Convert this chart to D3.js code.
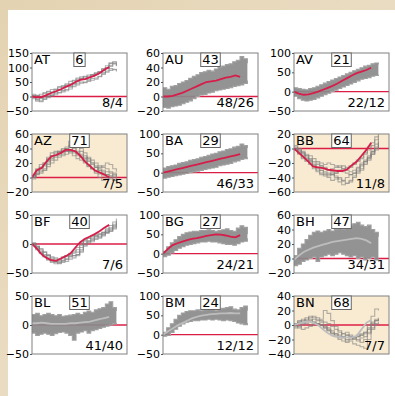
<!DOCTYPE html>
<html><head><meta charset="utf-8">
<script src="https://cdn.jsdelivr.net/npm/d3@7"></script>
<style>
html,body{margin:0;padding:0;background:#e6d6b8;}
svg{display:block;}
text{font-family:"DejaVu Sans",sans-serif;}
</style></head>
<body>
<svg id="c" width="395" height="396"></svg>
<script>
// ---------- data ----------
const names = ["AT","AU","AV","AZ","BA","BB","BF","BG","BH","BL","BM","BN"];
const counts = [6,43,21,71,29,64,40,27,47,51,24,68];
const fractions = ["8/4","48/26","22/12","7/5","46/33","11/8","7/6","24/21","34/31","41/40","12/12","7/7"];
const yDomains = [[-50,150],[-20,60],[-50,100],[-20,60],[-50,100],[-60,20],[-50,50],[-50,100],[-20,60],[-50,50],[-50,100],[-40,40]];
const yTicks = [[-50,0,50,100,150],[-20,0,20,40,60],[-50,0,50,100],[-20,0,20,40,60],[-50,0,50,100],[-60,-40,-20,0,20],[-50,0,50],[-50,0,50,100],[-20,0,20,40,60],[-50,0,50],[-50,0,50,100],[-40,-20,0,20,40]];
const highlighted = ["AZ","BB","BN"];
const greyTrend = ["BH","BL","BM","BN"];

// trend lines (17 points)
const trendAT = [0,-3,-2,5,12,18,25,33,40,50,57,60,66,72,80,92,102];
const trendAU = [0,0,1,3,5,8,11,14,17,20,21,22,24,26,27,29,27];
const trendAV = [0,-5,-8,-7,-4,0,5,10,15,21,28,35,42,48,52,56,62];
const trendAZ = [0,10,13,22,29,31,34,38,38,36,30,22,16,10,7,4,0];
const trendBA = [0,3,6,9,12,15,18,21,24,27,30,33,36,39,42,45,48];
const trendBB = [0,-6,-12,-18,-25,-26,-27,-29,-30,-31,-31,-29,-23,-18,-10,-2,8];
const trendBF = [0,-8,-18,-24,-28,-29,-25,-21,-16,-6,3,9,13,17,22,28,33];
const trendBG = [0,12,22,27,31,35,38,40,43,46,48,50,49,47,44,42,48];
const trendBH = [-2,4,9,12,15,17,19,21,23,24,25,26,27,28,27,25,21];
const trendBL = [3,3,4,3,2,2,2,2,3,3,4,5,6,8,10,12,14];
const trendBM = [0,8,16,24,30,36,42,46,49,51,53,54,55,55,56,55,55];
const trendBN = [0,2,4,5,3,0,-6,-11,-15,-16,-17,-17,-17,-15,-6,3,7];

// individual grey runs for the sparse panels
const linesAT = [
 [0,-10,-15,-8,2,8,12,24,22,34,35,44,52,60,64,58,70,76,84,82,96,104,112,104],
 [8,4,-3,10,16,14,26,22,34,40,44,54,60,64,68,74,76,82,84,96,100,114,118,120],
 [-8,-16,-18,-10,-4,2,6,12,16,20,26,34,40,46,50,52,56,60,68,76,84,90,94,90],
 [4,2,8,14,18,24,24,34,38,44,52,56,64,68,60,70,76,80,86,94,106,116,120,110],
 [-4,-12,-6,-2,0,4,12,14,20,24,32,40,46,50,48,56,62,64,70,80,88,96,92,86],
 [2,-5,-8,0,10,16,20,30,32,38,42,46,56,62,70,66,72,78,82,90,98,108,114,106]
];
const linesAZ = [
 [0,12,18,20,28,34,36,34,38,40,44,42,30,28,20,15,12,8,5,2,0,-2,-4,-5],
 [2,5,8,10,18,24,28,30,32,36,34,30,26,24,28,22,18,14,10,6,4,2,0,-2],
 [-2,8,12,16,26,30,32,36,38,42,50,55,42,36,30,24,20,16,12,10,8,6,2,0],
 [0,4,6,10,15,20,24,28,30,32,36,40,36,32,24,18,12,6,0,-4,-2,2,4,0],
 [3,10,14,18,24,30,34,36,40,38,36,34,32,28,26,28,24,20,16,14,12,8,6,2],
 [0,6,10,12,20,26,30,32,34,36,38,44,48,40,34,26,20,14,10,8,4,0,-3,-4],
 [1,10,14,20,22,28,30,34,36,40,38,36,34,30,22,16,12,10,14,16,20,18,12,8]
];
const linesBB = [
 [0,-6,-10,-14,-20,-28,-32,-36,-38,-40,-44,-42,-40,-45,-48,-46,-40,-34,-30,-22,-16,-8,0,8],
 [2,-2,-4,-8,-10,-14,-18,-20,-22,-20,-22,-24,-26,-24,-28,-26,-22,-18,-14,-8,-2,4,12,18],
 [-2,-8,-14,-18,-22,-24,-28,-30,-34,-36,-34,-38,-42,-44,-40,-36,-34,-30,-24,-18,-12,-4,2,10],
 [0,-4,-6,-10,-16,-18,-20,-24,-26,-30,-28,-26,-24,-28,-30,-32,-30,-26,-20,-16,-10,-4,6,14],
 [4,0,-6,-10,-14,-20,-26,-30,-32,-34,-36,-40,-46,-50,-48,-44,-38,-32,-28,-20,-12,-6,0,4],
 [-2,-6,-12,-16,-18,-22,-22,-24,-28,-30,-32,-34,-30,-32,-34,-36,-34,-28,-22,-18,-14,-8,-2,6],
 [0,-2,-8,-12,-16,-24,-30,-34,-36,-38,-36,-34,-30,-28,-26,-24,-20,-16,-12,-6,2,8,16,20]
];
const linesBF = [
 [0,-8,-16,-22,-28,-32,-34,-33,-30,-26,-22,-20,-18,-10,0,4,6,10,12,16,20,22,26,30],
 [2,-4,-10,-14,-18,-22,-24,-26,-22,-20,-18,-14,-10,-2,6,10,14,16,18,20,24,28,34,38],
 [-2,-10,-16,-22,-26,-30,-32,-34,-32,-30,-26,-24,-20,-14,-4,2,4,8,10,14,18,22,28,34],
 [0,-4,-8,-14,-20,-24,-26,-28,-24,-20,-16,-12,-6,2,8,10,12,14,16,20,26,32,38,44],
 [0,-6,-12,-20,-24,-28,-30,-30,-28,-26,-22,-20,-18,-12,-2,4,8,12,16,18,20,24,30,36],
 [1,-5,-14,-18,-20,-26,-30,-32,-28,-22,-20,-16,-14,-6,4,6,10,14,12,16,22,26,32,40]
];
const linesBN = [
 [0,4,8,6,10,12,10,8,20,16,6,-2,-8,-12,-14,-16,-18,-16,-14,-10,0,12,22,20],
 [-2,-4,0,2,0,4,2,0,-4,-8,-12,-16,-20,-22,-24,-22,-26,-28,-30,-32,-20,-6,2,4],
 [2,6,4,8,12,10,8,6,4,2,-2,-6,-10,-16,-20,-18,-20,-22,-18,-16,-10,0,6,8],
 [0,-2,-6,-4,-2,0,2,0,-2,-6,-10,-12,-14,-12,-10,-14,-16,-14,-12,-10,-6,2,6,10],
 [-4,0,2,4,6,8,6,4,0,-4,-8,-12,-16,-18,-22,-20,-18,-20,-24,-20,-12,-4,0,2],
 [2,4,6,10,8,4,2,0,-4,-8,-12,-14,-18,-16,-14,-16,-18,-16,-14,-12,-4,4,8,6]
];

// envelopes of the dense panels (upper / lower)
const bandHiAU = [12,10,14,15,18,20,22,25,28,30,33,34,36,35,38,40,42,44,45,48,50,55,52,46];
const bandLoAU = [-15,-16,-14,-13,-12,-10,-8,-6,-3,0,2,3,5,6,8,9,10,11,12,14,15,16,18,22];
const bandHiAV = [10,8,6,5,8,10,14,18,22,26,30,34,38,42,46,50,54,58,62,66,68,72,74,70];
const bandLoAV = [-12,-18,-22,-24,-22,-20,-16,-12,-8,-4,0,4,8,12,16,20,24,28,32,34,36,40,42,44];
const bandHiBA = [12,16,18,20,24,26,28,32,34,36,40,42,45,48,50,54,56,60,62,66,68,74,70,64];
const bandLoBA = [-14,-12,-10,-8,-6,-4,-2,0,2,4,6,8,10,12,14,18,20,22,24,28,30,34,36,40];
const bandHiBG = [6,18,28,36,44,50,54,56,58,58,60,60,62,60,58,60,62,64,60,58,66,72,68,50];
const bandLoBG = [-8,-4,2,8,14,18,22,24,26,28,30,30,32,30,30,28,26,24,24,22,26,30,32,40];
const bandHiBH = [4,14,20,26,32,36,38,36,38,40,38,40,42,40,44,46,48,50,46,44,46,40,36,30];
const bandLoBH = [-10,-8,-4,-2,0,2,-4,2,4,6,4,6,8,6,4,2,4,0,2,-2,0,2,-2,0];
const bandHiBL = [18,20,16,18,20,18,16,18,15,16,17,18,20,18,22,24,22,26,28,30,36,40,30,24];
const bandLoBL = [-14,-18,-16,-14,-16,-18,-15,-13,-12,-14,-18,-26,-14,-12,-10,-14,-10,-8,-6,-4,-2,0,2,4];
const bandHiBM = [6,18,28,40,50,56,60,62,62,64,62,64,66,64,62,66,68,70,72,66,64,70,74,62];
const bandLoBM = [-4,-2,6,14,22,28,32,34,36,36,38,38,40,38,40,38,36,38,36,34,30,28,26,30];

const trends = {AT:trendAT,AU:trendAU,AV:trendAV,AZ:trendAZ,BA:trendBA,BB:trendBB,BF:trendBF,BG:trendBG,BH:trendBH,BL:trendBL,BM:trendBM,BN:trendBN};
const lineSets = {AT:linesAT,AZ:linesAZ,BB:linesBB,BF:linesBF,BN:linesBN};
const bands = {AU:[bandHiAU,bandLoAU],AV:[bandHiAV,bandLoAV],BA:[bandHiBA,bandLoBA],BG:[bandHiBG,bandLoBG],BH:[bandHiBH,bandLoBH],BL:[bandHiBL,bandLoBL],BM:[bandHiBM,bandLoBM]};

// ---------- drawing ----------
const svg = d3.select("#c");
const defs = svg.append("defs");
const grad = defs.append("linearGradient").attr("id","parch").attr("x1","0").attr("y1","0").attr("x2","1").attr("y2","1");
grad.append("stop").attr("offset","0").attr("stop-color","#e4d3b2");
grad.append("stop").attr("offset","0.5").attr("stop-color","#eadcc2");
grad.append("stop").attr("offset","1").attr("stop-color","#dcc8a4");
svg.append("rect").attr("width",395).attr("height",396).attr("fill","url(#parch)");
svg.append("rect").attr("x",8).attr("y",10).attr("width",387).attr("height",386).attr("fill","#ffffff");

const colLeft = [32,163,294], rowTop = [53,134,215,296], pw = 95, ph = 58;
const TMAX = 16, XDOM = 19.7, LMAX = 17.5;

names.forEach((nm,i)=>{
  const x0 = colLeft[i%3], y0 = rowTop[Math.floor(i/3)];
  const g = svg.append("g").attr("transform",`translate(${x0},${y0})`);
  const x = d3.scaleLinear().domain([0,XDOM]).range([0,pw]);
  const y = d3.scaleLinear().domain(yDomains[i]).range([ph,0]);
  const cid = "clip"+nm;
  defs.append("clipPath").attr("id",cid).append("rect").attr("width",pw).attr("height",ph);

  g.append("rect").attr("width",pw).attr("height",ph)
    .attr("fill", highlighted.includes(nm) ? "#f9ebd2" : "#ffffff");

  const inner = g.append("g").attr("clip-path",`url(#${cid})`);
  inner.append("line").attr("x1",0).attr("x2",pw).attr("y1",y(0)).attr("y2",y(0))
    .attr("stroke","#dc1e46").attr("stroke-width",1.3);

  const stepX = arr => (j => j*LMAX/(arr.length-1));
  if (bands[nm]) {
    const [hi,lo] = bands[nm];
    const sx = stepX(hi);
    const area = d3.area().curve(d3.curveStepAfter)
      .x((d,j)=>x(sx(j))).y0((d,j)=>y(lo[j])).y1(d=>y(d));
    inner.append("path").datum(hi).attr("d",area).attr("fill","#8a8a8a").attr("opacity",0.92);
    const edge = d3.line().curve(d3.curveStepAfter).x((d,j)=>x(sx(j))).y(d=>y(d));
    [hi,lo].forEach(a=>inner.append("path").datum(a).attr("d",edge)
      .attr("fill","none").attr("stroke","#a0a0a0").attr("stroke-width",1.1));
  }
  if (lineSets[nm]) {
    lineSets[nm].forEach(arr=>{
      const sx = stepX(arr);
      const ln = d3.line().curve(d3.curveStepAfter).x((d,j)=>x(sx(j))).y(d=>y(d));
      inner.append("path").datum(arr).attr("d",ln).attr("fill","none")
        .attr("stroke","#7f7f7f").attr("stroke-opacity",0.6).attr("stroke-width",1.1);
    });
  }
  const tr = trends[nm];
  const tl = d3.line().x((d,j)=>x(j*TMAX/(tr.length-1))).y(d=>y(d));
  inner.append("path").datum(tr).attr("d",tl).attr("fill","none")
    .attr("stroke", greyTrend.includes(nm) ? "#bdbdbd" : "#d51e4a").attr("stroke-width",1.8);

  g.append("rect").attr("width",pw).attr("height",ph).attr("fill","none")
    .attr("stroke","#808080").attr("stroke-width",1);

  const ax = g.append("g").call(d3.axisLeft(y).tickValues(yTicks[i]).tickSize(2).tickPadding(1));
  ax.select(".domain").remove();
  ax.selectAll(".tick line").attr("stroke","#555");
  ax.selectAll("text").attr("font-size","11px").attr("fill","#000")
    .attr("font-family","DejaVu Sans, sans-serif");

  g.append("text").attr("x",2).attr("y",11).attr("font-size","13px").text(nm);

  const boxG = g.append("g");
  const boxR = boxG.append("rect");
  const nt = boxG.append("text").attr("x",pw/2).attr("y",11).attr("font-size","13px")
    .attr("text-anchor","middle").text(counts[i]);
  const bb = nt.node().getBBox();
  boxR.attr("x",bb.x-1.5).attr("y",0).attr("width",bb.width+3).attr("height",13.5)
    .attr("fill","#fff").attr("stroke","#666").attr("stroke-width",1);

  g.append("text").attr("x",pw-4).attr("y",ph-4).attr("font-size","13px")
    .attr("text-anchor","end").text(fractions[i]);
});
</script>
</body></html>
